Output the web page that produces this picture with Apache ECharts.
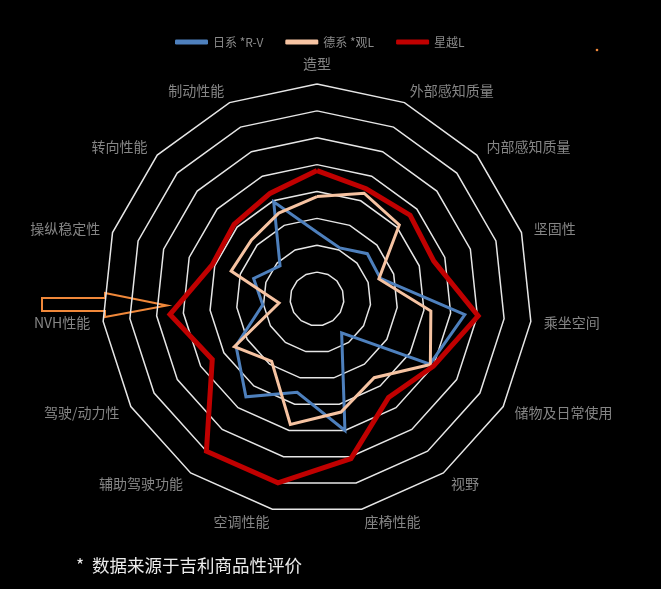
<!DOCTYPE html>
<html>
<head>
<meta charset="utf-8">
<script src="https://cdn.jsdelivr.net/npm/echarts@6/dist/echarts.min.js"></script>
<style>
html,body{margin:0;padding:0;background:#000;}
#chart{width:661px;height:589px;}
</style>
</head>
<body>
<div id="chart"></div>
<script>
// indicators in clockwise order starting from the top
const indicatorNames = ['造型','外部感知质量','内部感知质量','坚固性','乘坐空间','储物及日常使用','视野','座椅性能','空调性能','辅助驾驶功能','驾驶/动力性','NVH性能','操纵稳定性','转向性能','制动性能'];
const seriesNames = ['日系 *R-V','德系 *观L','星越L'];
const valuesJapanese = [2.48,2.08,2.52,2.48,5.53,4.85,1.56,5.0,3.55,4.5,3.48,2.03,2.48,1.85,3.96];
const valuesGerman   = [3.81,4.31,4.12,2.42,4.26,4.87,3.62,4.3,4.77,2.87,3.55,1.42,3.36,3.28,3.5];
const valuesXingyue  = [4.78,4.49,4.66,4.57,6.03,5.0,4.53,6.07,6.99,7.0,4.5,5.5,4.1,4.15,4.3];
const scaleMax = 8;
const footnote = '*  数据来源于吉利商品性评价';

// ECharts lays radar indicators counter-clockwise; reorder to read clockwise
function toCCW(arr){ return [arr[0]].concat(arr.slice(1).reverse()); }

const chart = echarts.init(document.getElementById('chart'));
const font = '"Noto Sans CJK SC", "Noto Sans", sans-serif';
const colors = ['#4e80bd','#f6c3a2','#c00000'];
const widths = [3,3,5];
const vals = [valuesJapanese, valuesGerman, valuesXingyue];

chart.setOption({
  backgroundColor: '#000',
  textStyle: { fontFamily: font },
  legend: {
    top: 31, left: 170,
    itemWidth: 33, itemHeight: 5, itemGap: 22,
    icon: 'roundRect',
    textStyle: { color: '#8a8a8a', fontSize: 12, fontFamily: font },
    data: seriesNames
  },
  radar: {
    center: [317, 299],
    radius: 215,
    startAngle: 90,
    shape: 'polygon',
    splitNumber: 8,
    nameGap: 13,
    axisName: { color: '#858585', fontSize: 14, fontFamily: font },
    splitLine: { lineStyle: { color: '#e6e6e6', width: 1.5 } },
    splitArea: { show: false },
    axisLine: { show: false },
    axisTick: { show: false },
    axisLabel: { show: false },
    indicator: toCCW(indicatorNames).map(n => ({ name: n, min: 0, max: scaleMax }))
  },
  series: [{
    type: 'radar',
    symbol: 'none',
    silent: true,
    data: seriesNames.map((n, i) => ({
      name: n,
      value: toCCW(vals[i]),
      lineStyle: { color: colors[i], width: widths[i], join: 'miter' },
      itemStyle: { color: colors[i] }
    }))
  }],
  graphic: [
    {
      type: 'polygon',
      shape: { points: [[42,298],[105,298],[105,293],[167,305.5],[105,317],[105,311],[42,311]] },
      style: { fill: 'none', stroke: '#f0883a', lineWidth: 2 }
    },
    {
      type: 'circle', shape: { cx: 597, cy: 50, r: 1.3 },
      style: { fill: '#f0883a' }
    },
    {
      type: 'text', left: 76, top: 557,
      style: { text: footnote, fill: '#ececec', fontSize: 17.5, fontFamily: font }
    }
  ]
});
</script>
</body>
</html>
